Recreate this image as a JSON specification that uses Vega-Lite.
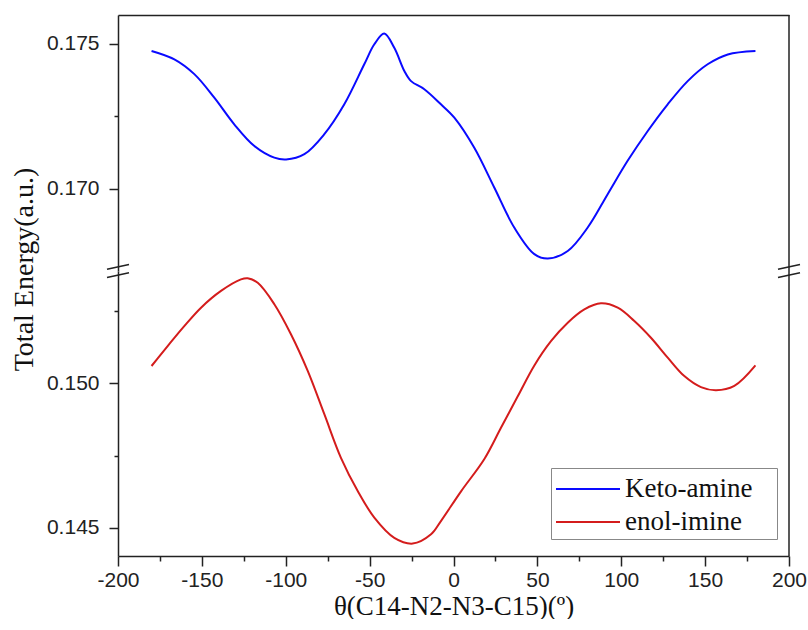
{
  "$schema": "https://vega.github.io/schema/vega-lite/v6.json",
  "background": "white",
  "padding": {"left": 10, "top": 14, "right": 0, "bottom": 0},
  "config": {"view": {"stroke": null}, "axis": {"grid": false}},
  "datasets": {
    "keto": [
      {"theta": -180, "energy": 0.17476, "series": "Keto-amine"},
      {"theta": -166.4, "energy": 0.17447, "series": "Keto-amine"},
      {"theta": -154.5, "energy": 0.17396, "series": "Keto-amine"},
      {"theta": -142.6, "energy": 0.17315, "series": "Keto-amine"},
      {"theta": -130.7, "energy": 0.17223, "series": "Keto-amine"},
      {"theta": -118.7, "energy": 0.17148, "series": "Keto-amine"},
      {"theta": -106.8, "energy": 0.17108, "series": "Keto-amine"},
      {"theta": -99.8, "energy": 0.17102, "series": "Keto-amine"},
      {"theta": -88.9, "energy": 0.1712, "series": "Keto-amine"},
      {"theta": -77.0, "energy": 0.17189, "series": "Keto-amine"},
      {"theta": -65.1, "energy": 0.17292, "series": "Keto-amine"},
      {"theta": -53.2, "energy": 0.1743, "series": "Keto-amine"},
      {"theta": -47.2, "energy": 0.17499, "series": "Keto-amine"},
      {"theta": -41.3, "energy": 0.17536, "series": "Keto-amine"},
      {"theta": -35.3, "energy": 0.17487, "series": "Keto-amine"},
      {"theta": -29.3, "energy": 0.17407, "series": "Keto-amine"},
      {"theta": -25.3, "energy": 0.17372, "series": "Keto-amine"},
      {"theta": -17.4, "energy": 0.17344, "series": "Keto-amine"},
      {"theta": -7.5, "energy": 0.17292, "series": "Keto-amine"},
      {"theta": 0.5, "energy": 0.17246, "series": "Keto-amine"},
      {"theta": 12.4, "energy": 0.17142, "series": "Keto-amine"},
      {"theta": 24.3, "energy": 0.17005, "series": "Keto-amine"},
      {"theta": 36.2, "energy": 0.16867, "series": "Keto-amine"},
      {"theta": 48.2, "energy": 0.16775, "series": "Keto-amine"},
      {"theta": 56.2, "energy": 0.1676, "series": "Keto-amine"},
      {"theta": 68.1, "energy": 0.16786, "series": "Keto-amine"},
      {"theta": 80.0, "energy": 0.16867, "series": "Keto-amine"},
      {"theta": 91.9, "energy": 0.16982, "series": "Keto-amine"},
      {"theta": 103.8, "energy": 0.17097, "series": "Keto-amine"},
      {"theta": 115.8, "energy": 0.172, "series": "Keto-amine"},
      {"theta": 127.7, "energy": 0.17292, "series": "Keto-amine"},
      {"theta": 139.6, "energy": 0.17372, "series": "Keto-amine"},
      {"theta": 151.5, "energy": 0.1743, "series": "Keto-amine"},
      {"theta": 163.5, "energy": 0.17464, "series": "Keto-amine"},
      {"theta": 180, "energy": 0.17476, "series": "Keto-amine"}
    ],
    "enol": [
      {"theta": -180, "energy": 0.1506, "series": "enol-imine"},
      {"theta": -170.4, "energy": 0.15129, "series": "enol-imine"},
      {"theta": -160.5, "energy": 0.15198, "series": "enol-imine"},
      {"theta": -150.5, "energy": 0.15262, "series": "enol-imine"},
      {"theta": -138.6, "energy": 0.1532, "series": "enol-imine"},
      {"theta": -126.7, "energy": 0.1536, "series": "enol-imine"},
      {"theta": -122.7, "energy": 0.15364, "series": "enol-imine"},
      {"theta": -116.7, "energy": 0.15348, "series": "enol-imine"},
      {"theta": -106.8, "energy": 0.15274, "series": "enol-imine"},
      {"theta": -96.9, "energy": 0.1517, "series": "enol-imine"},
      {"theta": -86.9, "energy": 0.15043, "series": "enol-imine"},
      {"theta": -77.0, "energy": 0.14893, "series": "enol-imine"},
      {"theta": -67.1, "energy": 0.14742, "series": "enol-imine"},
      {"theta": -57.1, "energy": 0.14627, "series": "enol-imine"},
      {"theta": -47.2, "energy": 0.14535, "series": "enol-imine"},
      {"theta": -35.3, "energy": 0.14465, "series": "enol-imine"},
      {"theta": -24.3, "energy": 0.14445, "series": "enol-imine"},
      {"theta": -13.4, "energy": 0.14477, "series": "enol-imine"},
      {"theta": -7.5, "energy": 0.14523, "series": "enol-imine"},
      {"theta": 4.5, "energy": 0.14626, "series": "enol-imine"},
      {"theta": 18.4, "energy": 0.14738, "series": "enol-imine"},
      {"theta": 28.3, "energy": 0.14846, "series": "enol-imine"},
      {"theta": 38.3, "energy": 0.14955, "series": "enol-imine"},
      {"theta": 48.2, "energy": 0.15062, "series": "enol-imine"},
      {"theta": 58.1, "energy": 0.15146, "series": "enol-imine"},
      {"theta": 68.1, "energy": 0.1521, "series": "enol-imine"},
      {"theta": 78.0, "energy": 0.15256, "series": "enol-imine"},
      {"theta": 87.9, "energy": 0.15277, "series": "enol-imine"},
      {"theta": 97.9, "energy": 0.15262, "series": "enol-imine"},
      {"theta": 107.8, "energy": 0.15216, "series": "enol-imine"},
      {"theta": 117.7, "energy": 0.15158, "series": "enol-imine"},
      {"theta": 127.7, "energy": 0.15089, "series": "enol-imine"},
      {"theta": 137.6, "energy": 0.15025, "series": "enol-imine"},
      {"theta": 147.5, "energy": 0.14987, "series": "enol-imine"},
      {"theta": 156.5, "energy": 0.14976, "series": "enol-imine"},
      {"theta": 167.4, "energy": 0.14991, "series": "enol-imine"},
      {"theta": 180, "energy": 0.15062, "series": "enol-imine"}
    ]
  },
  "spacing": 0,
  "bounds": "flush",
  "resolve": {"scale": {"color": "independent"}, "legend": {"color": "independent"}},
  "vconcat": [
    {
      "width": 671,
      "height": 256,
      "layer": [
        {
          "data": {"name": "keto"},
          "mark": {"type": "line", "interpolate": "catmull-rom", "strokeWidth": 2},
          "encoding": {
            "x": {
              "field": "theta", "type": "quantitative",
              "scale": {"domain": [-200, 200], "nice": false},
              "axis": {"orient": "top", "labels": false, "ticks": false, "title": null, "domainColor": "#222", "domainWidth": 1.5}
            },
            "y": {
              "field": "energy", "type": "quantitative",
              "scale": {"domain": [0.16717, 0.176], "nice": false, "zero": false},
              "axis": {
                "values": [0.17, 0.1725, 0.175],
                "format": ".3f",
                "labelExpr": "abs(datum.value*200 - round(datum.value*200)) < 0.001 ? datum.label : ''",
                "tickSize": {"condition": {"test": "abs(datum.value*200 - round(datum.value*200)) < 0.001", "value": 9}, "value": 4},
                "title": null,
                "labelFont": "Liberation Sans", "labelFontSize": 21, "labelColor": "#222",
                "labelPadding": 10, "labelOverlap": false,
                "tickColor": "#222", "tickWidth": 1.5,
                "domainColor": "#222", "domainWidth": 1.5
              }
            },
            "color": {
              "field": "series", "type": "nominal",
              "scale": {"domain": ["Keto-amine", "enol-imine"], "range": ["#0a0aff", "#d41c1c"]},
              "legend": null
            }
          }
        },
        {
          "data": {"values": [{}]},
          "mark": {"type": "rule", "color": "#222", "strokeWidth": 1.5},
          "encoding": {"x": {"datum": 200, "type": "quantitative"}}
        },
        {
          "data": {"values": [{}]},
          "mark": {"type": "point", "shape": "M-1,-0.15L1,-0.6M-1,0.6L1,0.15", "filled": false, "size": 484, "color": "#222", "strokeWidth": 1.5, "opacity": 1},
          "encoding": {"x": {"datum": -200, "type": "quantitative"}, "y": {"datum": 0.16717, "type": "quantitative"}}
        },
        {
          "data": {"values": [{}]},
          "mark": {"type": "point", "shape": "M-1,-0.15L1,-0.6M-1,0.6L1,0.15", "filled": false, "size": 484, "color": "#222", "strokeWidth": 1.5, "opacity": 1},
          "encoding": {"x": {"datum": 200, "type": "quantitative"}, "y": {"datum": 0.16717, "type": "quantitative"}}
        }
      ]
    },
    {
      "width": 671,
      "height": 285,
      "layer": [
        {
          "data": {"name": "enol"},
          "mark": {"type": "line", "interpolate": "catmull-rom", "strokeWidth": 2},
          "encoding": {
            "x": {
              "field": "theta", "type": "quantitative",
              "scale": {"domain": [-200, 200], "nice": false},
              "axis": {
                "values": [-200, -175, -150, -125, -100, -75, -50, -25, 0, 25, 50, 75, 100, 125, 150, 175, 200],
                "labelExpr": "datum.value % 50 === 0 ? toString(datum.value) : ''",
                "tickSize": {"condition": {"test": "datum.value % 50 === 0", "value": 10}, "value": 5},
                "title": "θ(C14-N2-N3-C15)(º)",
                "titleFont": "Liberation Serif", "titleFontSize": 27, "titleFontWeight": "normal", "titleColor": "#111", "titlePadding": 3,
                "labelFont": "Liberation Sans", "labelFontSize": 21, "labelColor": "#222",
                "labelPadding": 3, "labelOverlap": false, "labelFlush": false,
                "tickColor": "#222", "tickWidth": 1.5,
                "domainColor": "#222", "domainWidth": 1.5
              }
            },
            "y": {
              "field": "energy", "type": "quantitative",
              "scale": {"domain": [0.14402, 0.15389], "nice": false, "zero": false},
              "axis": {
                "values": [0.145, 0.1475, 0.15, 0.1525],
                "format": ".3f",
                "labelExpr": "abs(datum.value*200 - round(datum.value*200)) < 0.001 ? datum.label : ''",
                "tickSize": {"condition": {"test": "abs(datum.value*200 - round(datum.value*200)) < 0.001", "value": 9}, "value": 4},
                "title": "Total Energy(a.u.)",
                "titleY": -2,
                "titleFont": "Liberation Serif", "titleFontSize": 28, "titleFontWeight": "normal", "titleColor": "#111", "titlePadding": 8,
                "labelFont": "Liberation Sans", "labelFontSize": 21, "labelColor": "#222",
                "labelPadding": 10, "labelOverlap": false,
                "tickColor": "#222", "tickWidth": 1.5,
                "domainColor": "#222", "domainWidth": 1.5
              }
            },
            "color": {
              "field": "series", "type": "nominal",
              "scale": {"domain": ["Keto-amine", "enol-imine"], "range": ["#0a0aff", "#d41c1c"]},
              "legend": {
                "orient": "none", "legendX": 433, "legendY": 197,
                "title": null,
                "symbolType": "M-2,0H2", "symbolSize": 1024, "symbolStrokeWidth": 2,
                "symbolFillColor": "transparent", "symbolOffset": 16,
                "labelExpr": "datum.label + '\u2800'",
                "labelFont": "Liberation Serif", "labelFontSize": 27, "labelColor": "#111",
                "labelLimit": 400, "labelOffset": 20,
                "strokeColor": "#888", "fillColor": "white", "padding": 4, "rowPadding": 3
              }
            }
          }
        },
        {
          "data": {"values": [{}]},
          "mark": {"type": "rule", "color": "#222", "strokeWidth": 1.5},
          "encoding": {"x": {"datum": 200, "type": "quantitative"}}
        }
      ]
    }
  ]
}
